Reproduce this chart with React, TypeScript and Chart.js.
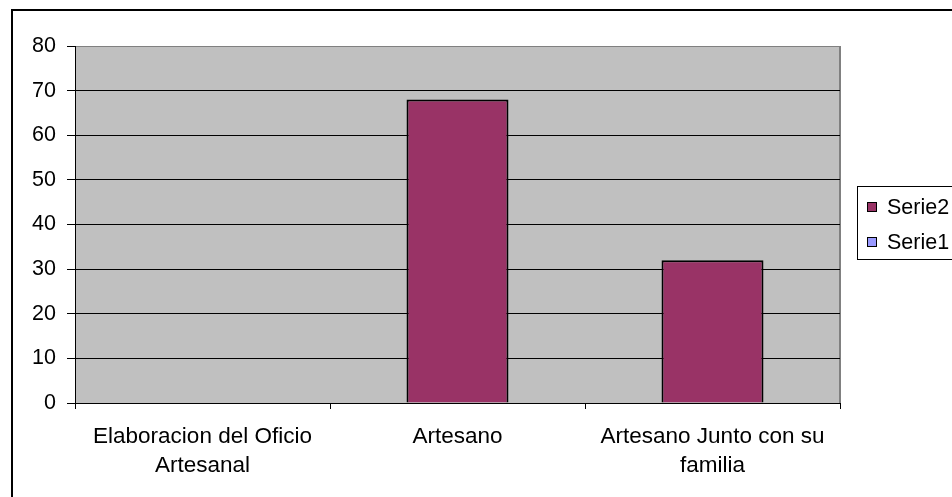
import React, { useEffect, useRef } from "react";
import { Chart, registerables } from "chart.js";

Chart.register(...registerables);

const categories: (string | string[])[] = [
  ["Elaboracion del Oficio", "Artesanal"],
  "Artesano",
  ["Artesano Junto con su", "familia"],
];
const serie1Values = [0, 0, 0];
const serie2Values = [0, 68, 32];
const yMin = 0;
const yMax = 80;
const yStep = 10;

const FONT = "'Liberation Sans', Arial, sans-serif";

const plotBgPlugin = {
  id: "plotBg",
  beforeDraw(chart: any) {
    const { ctx, chartArea } = chart;
    ctx.save();
    ctx.fillStyle = "#C0C0C0";
    ctx.fillRect(chartArea.left, chartArea.top, chartArea.right - chartArea.left, chartArea.bottom - chartArea.top);
    ctx.strokeStyle = "#808080";
    ctx.lineWidth = 2;
    ctx.beginPath();
    ctx.moveTo(chartArea.right, chartArea.top);
    ctx.lineTo(chartArea.right, chartArea.bottom);
    ctx.stroke();
    ctx.restore();
  },
};

const boxLegendPlugin = {
  id: "boxLegend",
  afterDraw(chart: any) {
    const { ctx, chartArea } = chart;
    const items = chart.data.datasets
      .map((d: any) => ({ label: d.label, color: d.backgroundColor }))
      .reverse();
    const left = Math.round(chartArea.right) + 17;
    const rowH = 35;
    const h = 73;
    const cy = (chartArea.top + chartArea.bottom) / 2 - 2;
    const top = Math.round(cy - h / 2);
    ctx.save();
    ctx.strokeStyle = "#000";
    ctx.lineWidth = 1;
    ctx.strokeRect(left + 0.5, top + 0.5, 200, h);
    ctx.font = `21.5px ${FONT}`;
    ctx.textBaseline = "middle";
    items.forEach((it: any, i: number) => {
      const y = top + 21 + i * rowH;
      ctx.fillStyle = it.color;
      ctx.fillRect(left + 10, y - 5, 10, 10);
      ctx.strokeStyle = "#000";
      ctx.strokeRect(left + 10.5, y - 4.5, 9, 9);
      ctx.fillStyle = "#000";
      ctx.fillText(it.label, left + 30, y + 1);
    });
    ctx.restore();
  },
};

function BarChart() {
  const ref = useRef<HTMLCanvasElement | null>(null);
  useEffect(() => {
    if (!ref.current) return;
    Chart.defaults.font.family = FONT;
    const chart = new Chart(ref.current, {
      type: "bar",
      data: {
        labels: categories,
        datasets: [
          {
            label: "Serie1",
            data: serie1Values,
            backgroundColor: "#9999FF",
            borderColor: "#000",
            borderWidth: 0,
            grouped: false,
            categoryPercentage: 1,
            barPercentage: 0.4,
          } as any,
          {
            label: "Serie2",
            data: serie2Values,
            backgroundColor: "#993366",
            borderColor: "#000",
            borderWidth: 2,
            grouped: false,
            categoryPercentage: 1,
            barPercentage: 0.4,
          } as any,
        ],
      },
      options: {
        animation: false,
        responsive: false,
        maintainAspectRatio: false,
        layout: { padding: { top: 46, right: 112, left: 0, bottom: 0 } },
        plugins: {
          legend: { display: false },
          tooltip: { enabled: false },
        },
        scales: {
          y: {
            min: yMin,
            max: yMax,
            ticks: { stepSize: yStep, color: "#000", padding: 11, font: { size: 21.5 } },
            grid: {
              color: (c: any) => (c.tick && c.tick.value === yMax ? "#808080" : "#000"),
              tickColor: "#000",
              tickLength: 8,
              lineWidth: 1,
            },
            border: { color: "#000", width: 1 },
            afterFit: (s: any) => {
              s.width = 75;
            },
          },
          x: {
            ticks: {
              color: "#000",
              padding: 13,
              maxRotation: 0,
              autoSkip: false,
              font: { size: 22.5, lineHeight: 1.31 },
            },
            grid: { drawOnChartArea: false, tickLength: 6, color: "#000", offset: true },
            border: { color: "#000", width: 1 },
            afterFit: (s: any) => {
              s.height = 94;
            },
          },
        },
      } as any,
      plugins: [plotBgPlugin, boxLegendPlugin],
    });
    return () => chart.destroy();
  }, []);
  return <canvas ref={ref} width={952} height={497} style={{ position: "absolute", left: 0, top: 0 }} />;
}

export default function App() {
  return (
    <div style={{ position: "fixed", left: 0, top: 0, width: 952, height: 497, overflow: "hidden", background: "#fff" }}>
      <div
        style={{
          position: "absolute",
          left: 11,
          top: 9,
          width: 1100,
          height: 700,
          border: "2px solid #000",
        }}
      />
      <BarChart />
    </div>
  );
}
